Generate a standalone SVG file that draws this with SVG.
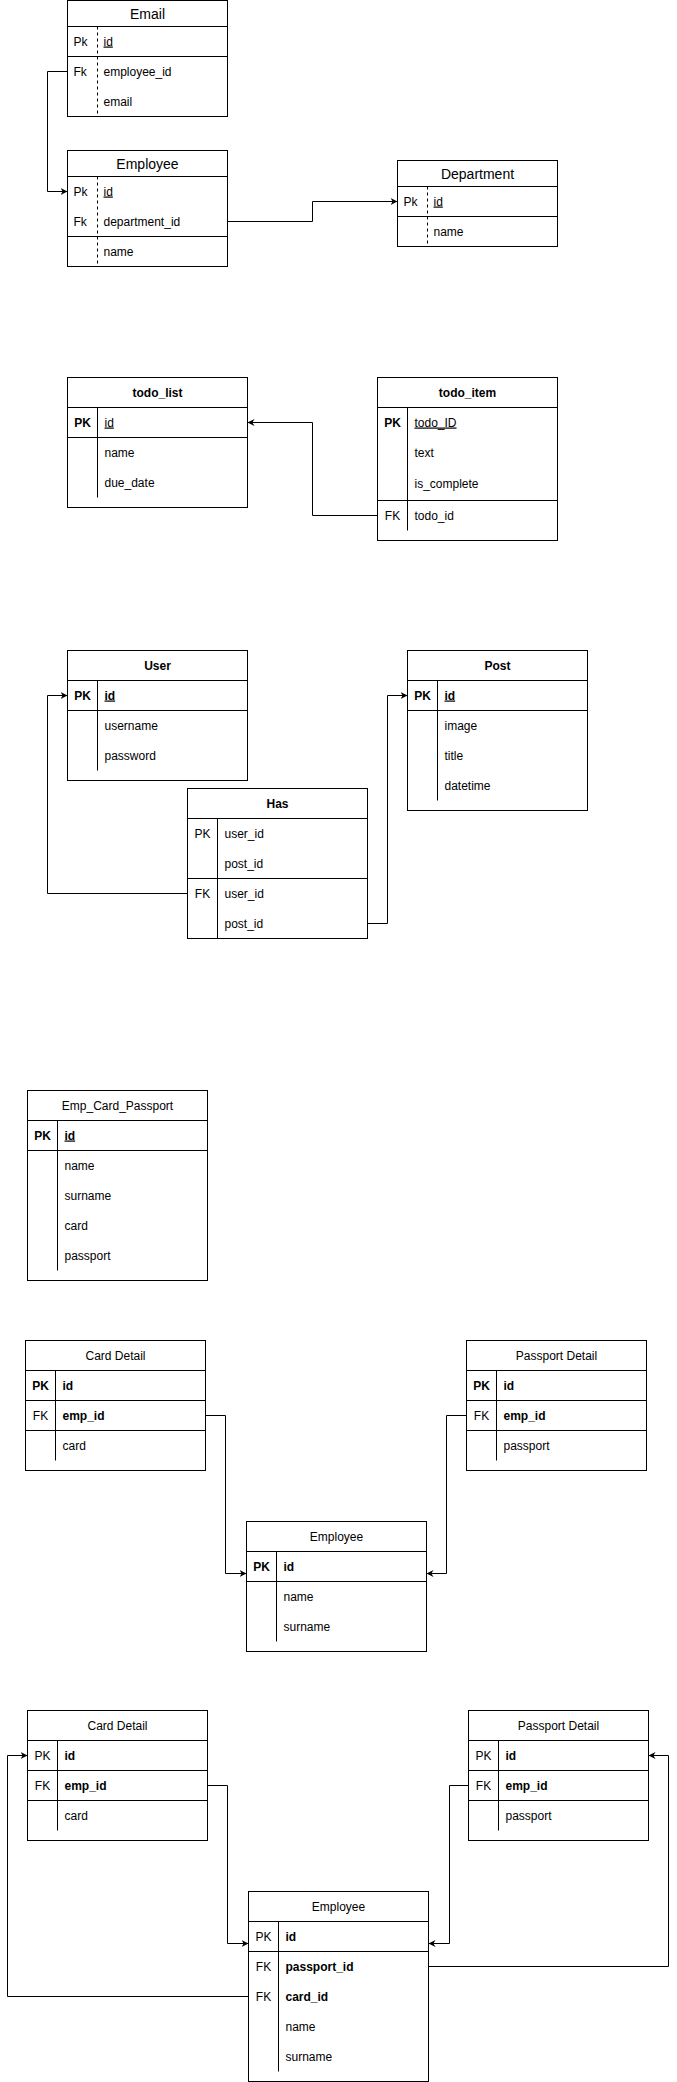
<svg xmlns="http://www.w3.org/2000/svg" width="677" height="2082" viewBox="0 0 677 2082">
<style>
.box{fill:#fff;stroke:#000;stroke-width:1}
.ln{stroke:#000;stroke-width:1;fill:none}
.dash{stroke-dasharray:3 3}
.t{font-family:"Liberation Sans",Arial,Helvetica,sans-serif;font-size:12px;fill:#000}
.h14{font-size:14px}
.b{font-weight:bold}
.u{text-decoration:underline}
.c{text-anchor:middle}
.edge{stroke:#000;stroke-width:1;fill:none;marker-end:url(#arr)}
</style>
<defs>
<marker id="arr" viewBox="0 0 8 8" markerUnits="userSpaceOnUse" markerWidth="7" markerHeight="7" refX="8" refY="4" orient="auto">
<path d="M0,0 L8,4 L0,8 L2.4,4 Z" fill="#000"/>
</marker>
</defs>
<rect width="677" height="2082" fill="#fff"/>

<g id="email">
<rect class="box" x="67.5" y="0.5" width="160" height="116"/>
<path class="ln" d="M67.5,26.5H227.5M67.5,56.5H227.5"/>
<path class="ln dash" d="M97.5,26.5V116.5"/>
<text class="t h14 c" x="147.5" y="18.5">Email</text>
<text class="t" x="73.5" y="45.5">Pk</text><text class="t u" x="103.5" y="45.5">id</text>
<text class="t" x="73.5" y="75.5">Fk</text><text class="t" x="103.5" y="75.5">employee_id</text>
<text class="t" x="103.5" y="105.5">email</text>
</g>

<g id="employee_a">
<rect class="box" x="67.5" y="150.5" width="160" height="116"/>
<path class="ln" d="M67.5,176.5H227.5M67.5,236.5H227.5"/>
<path class="ln dash" d="M97.5,176.5V266.5"/>
<text class="t h14 c" x="147.5" y="168.5">Employee</text>
<text class="t" x="73.5" y="195.5">Pk</text><text class="t u" x="103.5" y="195.5">id</text>
<text class="t" x="73.5" y="225.5">Fk</text><text class="t" x="103.5" y="225.5">department_id</text>
<text class="t" x="103.5" y="255.5">name</text>
</g>

<g id="department">
<rect class="box" x="397.5" y="160.5" width="160" height="86"/>
<path class="ln" d="M397.5,186.5H557.5M397.5,216.5H557.5"/>
<path class="ln dash" d="M427.5,186.5V246.5"/>
<text class="t h14 c" x="477.5" y="178.5">Department</text>
<text class="t" x="403.5" y="205.5">Pk</text><text class="t u" x="433.5" y="205.5">id</text>
<text class="t" x="433.5" y="235.5">name</text>
</g>

<g id="todo_list">
<rect class="box" x="67.5" y="377.5" width="180" height="130"/>
<path class="ln" d="M67.5,407.5H247.5M67.5,437.5H247.5M97.5,407.5V497.5"/>
<text class="t b c" x="157.5" y="396.5">todo_list</text>
<text class="t b c" x="82.5" y="426.5">PK</text><text class="t u" x="104.5" y="426.5">id</text>
<text class="t" x="104.5" y="456.5">name</text>
<text class="t" x="104.5" y="486.5">due_date</text>
</g>

<g id="todo_item">
<rect class="box" x="377.5" y="377.5" width="180" height="163"/>
<path class="ln" d="M377.5,407.5H557.5M377.5,500.5H557.5M407.5,407.5V530.5"/>
<text class="t b c" x="467.5" y="396.5">todo_item</text>
<text class="t b c" x="392.5" y="426.5">PK</text><text class="t u" x="414.5" y="426.5">todo_ID</text>
<text class="t" x="414.5" y="456.5">text</text>
<text class="t" x="414.5" y="488">is_complete</text>
<text class="t c" x="392.5" y="519.5">FK</text><text class="t" x="414.5" y="519.5">todo_id</text>
</g>

<g id="user">
<rect class="box" x="67.5" y="650.5" width="180" height="130"/>
<path class="ln" d="M67.5,680.5H247.5M67.5,710.5H247.5M97.5,680.5V770.5"/>
<text class="t b c" x="157.5" y="669.5">User</text>
<text class="t b c" x="82.5" y="699.5">PK</text><text class="t b u" x="104.5" y="699.5">id</text>
<text class="t" x="104.5" y="729.5">username</text>
<text class="t" x="104.5" y="759.5">password</text>
</g>

<g id="post">
<rect class="box" x="407.5" y="650.5" width="180" height="160"/>
<path class="ln" d="M407.5,680.5H587.5M407.5,710.5H587.5M437.5,680.5V800.5"/>
<text class="t b c" x="497.5" y="669.5">Post</text>
<text class="t b c" x="422.5" y="699.5">PK</text><text class="t b u" x="444.5" y="699.5">id</text>
<text class="t" x="444.5" y="729.5">image</text>
<text class="t" x="444.5" y="759.5">title</text>
<text class="t" x="444.5" y="789.5">datetime</text>
</g>

<g id="has">
<rect class="box" x="187.5" y="788.5" width="180" height="150"/>
<path class="ln" d="M187.5,818.5H367.5M187.5,878.5H367.5M217.5,818.5V938.5"/>
<text class="t b c" x="277.5" y="807.5">Has</text>
<text class="t c" x="202.5" y="837.5">PK</text><text class="t" x="224.5" y="837.5">user_id</text>
<text class="t" x="224.5" y="867.5">post_id</text>
<text class="t c" x="202.5" y="897.5">FK</text><text class="t" x="224.5" y="897.5">user_id</text>
<text class="t" x="224.5" y="927.5">post_id</text>
</g>

<g id="emp_card_passport">
<rect class="box" x="27.5" y="1090.5" width="180" height="190"/>
<path class="ln" d="M27.5,1120.5H207.5M27.5,1150.5H207.5M57.5,1120.5V1270.5"/>
<text class="t c" x="117.5" y="1109.5">Emp_Card_Passport</text>
<text class="t b c" x="42.5" y="1139.5">PK</text><text class="t b u" x="64.5" y="1139.5">id</text>
<text class="t" x="64.5" y="1169.5">name</text>
<text class="t" x="64.5" y="1199.5">surname</text>
<text class="t" x="64.5" y="1229.5">card</text>
<text class="t" x="64.5" y="1259.5">passport</text>
</g>

<g id="card_detail_1">
<rect class="box" x="25.5" y="1340.5" width="180" height="130"/>
<path class="ln" d="M25.5,1370.5H205.5M25.5,1400.5H205.5M25.5,1430.5H205.5M55.5,1370.5V1460.5"/>
<text class="t c" x="115.5" y="1359.5">Card Detail</text>
<text class="t b c" x="40.5" y="1389.5">PK</text><text class="t b" x="62.5" y="1389.5">id</text>
<text class="t c" x="40.5" y="1419.5">FK</text><text class="t b" x="62.5" y="1419.5">emp_id</text>
<text class="t" x="62.5" y="1449.5">card</text>
</g>

<g id="passport_detail_1">
<rect class="box" x="466.5" y="1340.5" width="180" height="130"/>
<path class="ln" d="M466.5,1370.5H646.5M466.5,1400.5H646.5M466.5,1430.5H646.5M496.5,1370.5V1460.5"/>
<text class="t c" x="556.5" y="1359.5">Passport Detail</text>
<text class="t b c" x="481.5" y="1389.5">PK</text><text class="t b" x="503.5" y="1389.5">id</text>
<text class="t c" x="481.5" y="1419.5">FK</text><text class="t b" x="503.5" y="1419.5">emp_id</text>
<text class="t" x="503.5" y="1449.5">passport</text>
</g>

<g id="employee_1">
<rect class="box" x="246.5" y="1521.5" width="180" height="130"/>
<path class="ln" d="M246.5,1551.5H426.5M246.5,1581.5H426.5M276.5,1551.5V1641.5"/>
<text class="t c" x="336.5" y="1540.5">Employee</text>
<text class="t b c" x="261.5" y="1570.5">PK</text><text class="t b" x="283.5" y="1570.5">id</text>
<text class="t" x="283.5" y="1600.5">name</text>
<text class="t" x="283.5" y="1630.5">surname</text>
</g>

<g id="card_detail_2">
<rect class="box" x="27.5" y="1710.5" width="180" height="130"/>
<path class="ln" d="M27.5,1740.5H207.5M27.5,1770.5H207.5M27.5,1800.5H207.5M57.5,1740.5V1830.5"/>
<text class="t c" x="117.5" y="1729.5">Card Detail</text>
<text class="t c" x="42.5" y="1759.5">PK</text><text class="t b" x="64.5" y="1759.5">id</text>
<text class="t c" x="42.5" y="1789.5">FK</text><text class="t b" x="64.5" y="1789.5">emp_id</text>
<text class="t" x="64.5" y="1819.5">card</text>
</g>

<g id="passport_detail_2">
<rect class="box" x="468.5" y="1710.5" width="180" height="130"/>
<path class="ln" d="M468.5,1740.5H648.5M468.5,1770.5H648.5M468.5,1800.5H648.5M498.5,1740.5V1830.5"/>
<text class="t c" x="558.5" y="1729.5">Passport Detail</text>
<text class="t c" x="483.5" y="1759.5">PK</text><text class="t b" x="505.5" y="1759.5">id</text>
<text class="t c" x="483.5" y="1789.5">FK</text><text class="t b" x="505.5" y="1789.5">emp_id</text>
<text class="t" x="505.5" y="1819.5">passport</text>
</g>

<g id="employee_2">
<rect class="box" x="248.5" y="1891.5" width="180" height="190"/>
<path class="ln" d="M248.5,1921.5H428.5M248.5,1951.5H428.5M278.5,1921.5V2071.5"/>
<text class="t c" x="338.5" y="1910.5">Employee</text>
<text class="t c" x="263.5" y="1940.5">PK</text><text class="t b" x="285.5" y="1940.5">id</text>
<text class="t c" x="263.5" y="1970.5">FK</text><text class="t b" x="285.5" y="1970.5">passport_id</text>
<text class="t c" x="263.5" y="2000.5">FK</text><text class="t b" x="285.5" y="2000.5">card_id</text>
<text class="t" x="285.5" y="2030.5">name</text>
<text class="t" x="285.5" y="2060.5">surname</text>
</g>

<g id="connectors">
<path class="edge" d="M67.5,71.5H47.5V191.5H67.5"/>
<path class="edge" d="M227.5,221.5H312.5V201.5H397.5"/>
<path class="edge" d="M377.5,515.5H312.5V422.5H247.5"/>
<path class="edge" d="M187.5,893.5H47.5V695.5H67.5"/>
<path class="edge" d="M367.5,923.5H387.5V695.5H407.5"/>
<path class="edge" d="M205.5,1415.5H225.5V1573.5H246.5"/>
<path class="edge" d="M466.5,1415.5H446.5V1573.5H426.5"/>
<path class="edge" d="M207.5,1785.5H227.5V1943.5H248.5"/>
<path class="edge" d="M468.5,1785.5H449.5V1943.5H428.5"/>
<path class="edge" d="M248.5,1996.5H7.5V1755.5H27.5"/>
<path class="edge" d="M428.5,1966.5H668.5V1755.5H648.5"/>
</g>
</svg>
